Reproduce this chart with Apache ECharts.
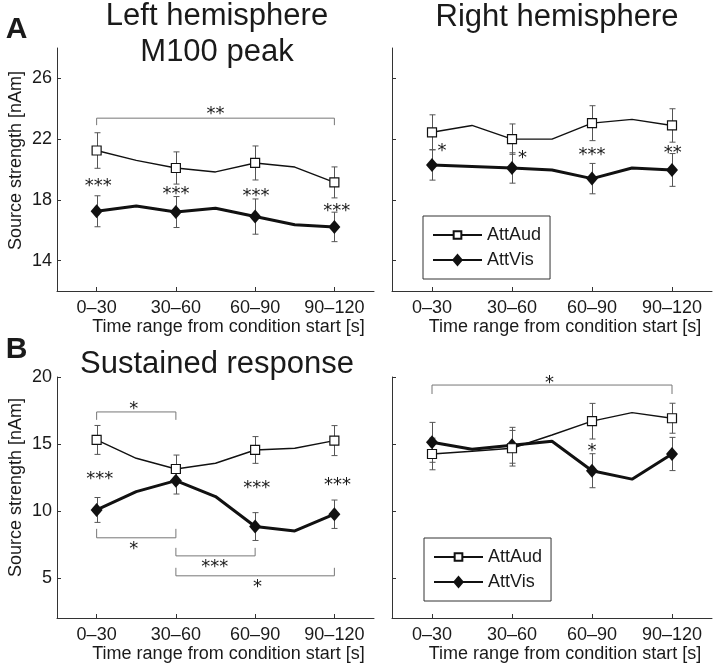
<!DOCTYPE html>
<html><head><meta charset="utf-8">
<script src="https://cdn.jsdelivr.net/npm/echarts@6/dist/echarts.min.js"></script>
<style>html,body{margin:0;padding:0;background:#fff}#c{width:714px;height:666px}</style>
</head><body><div id="c"></div>
<script>
// ---------- data ----------
const tickLabels = ['0–30', '30–60', '60–90', '90–120'];
const xPos = [1, 1.5, 2, 2.5, 3, 3.5, 4];
const markerPos = [1, 2, 3, 4];
const yTicksA = [14, 18, 22, 26];
const yTicksB = [5, 10, 15, 20];
const seriesNames = ['AttAud', 'AttVis'];

// A: M100 peak
const aLeftAud = [21.25, 20.6, 20.1, 19.84, 20.43, 20.16, 19.15];
const aLeftAudErr = [1.17, 1.06, 1.12, 1.02];
const aLeftVis = [17.25, 17.6, 17.2, 17.45, 16.9, 16.36, 16.22];
const aLeftVisErr = [1.02, 1.02, 1.16, 0.97];
const aRightAud = [22.45, 22.9, 22.0, 22.0, 23.05, 23.3, 22.9];
const aRightAudErr = [1.15, 1.0, 1.15, 1.1];
const aRightVis = [20.3, 20.2, 20.1, 19.97, 19.4, 20.1, 19.97];
const aRightVisErr = [1.0, 1.0, 1.0, 1.08];

// B: sustained response
const bLeftAud = [15.3, 13.93, 13.13, 13.56, 14.55, 14.68, 15.25];
const bLeftAudErr = [1.08, 1.04, 1.0, 1.12];
const bLeftVis = [10.07, 11.44, 12.26, 11.07, 8.83, 8.5, 9.75];
const bLeftVisErr = [0.93, 1.0, 1.04, 1.06];
const bRightAud = [14.25, 14.45, 14.68, 15.67, 16.7, 17.34, 16.92];
const bRightAudErr = [1.18, 1.33, 1.33, 1.12];
const bRightVis = [15.12, 14.6, 14.9, 15.2, 13.0, 12.37, 14.25];
const bRightVisErr = [1.49, 1.34, 1.27, 1.24];

// significance annotations [x, y, label]
const aLeftStars = [[1.02, 19.15, '***'], [2.0, 18.62, '***'], [3.01, 18.52, '***'], [4.03, 17.5, '***'], [2.5, 23.9, '**']];
const aRightStars = [[1.125, 21.48, '*'], [2.13, 21.0, '*'], [3.0, 21.2, '***'], [4.01, 21.35, '**']];
const bLeftStars = [[1.04, 12.69, '***'], [3.02, 12.0, '***'], [4.04, 12.24, '***'], [1.47, 17.9, '*'], [1.47, 7.43, '*'], [2.49, 6.08, '***'], [3.03, 4.59, '*']];
const bRightStars = [[2.47, 19.85, '*'], [3.0, 14.78, '*']];

// brackets [x1, x2, yBar, yEnd]
const aLeftBrackets = [[1, 4, 23.38, 22.92]];
const aRightBrackets = [];
const bLeftBrackets = [[1, 2, 17.39, 16.8], [1, 2, 7.99, 8.66], [2, 3, 6.64, 7.24], [2, 4, 5.15, 5.75]];
const bRightBrackets = [[1, 4, 19.4, 18.73]];

// ---------- styling / building ----------
const FONT = 'Liberation Sans, Arial, Helvetica, sans-serif';
const TXT = '#1a1a1a';
const AX = '#333';
const squarePath = 'path://M0,0M20,20M4,4L16,4L16,16L4,16Z';
const diamondPath = 'path://M0,0M28,28M14,0L26,14L14,28L2,14Z';

const panels = [
  {aud: aLeftAud, audErr: aLeftAudErr, vis: aLeftVis, visErr: aLeftVisErr, stars: aLeftStars, br: aLeftBrackets,
   grid: {left: 57, top: 48, width: 317, height: 243}, y: [12, 28], ticks: yTicksA, labels: true, nameShift: 18},
  {aud: aRightAud, audErr: aRightAudErr, vis: aRightVis, visErr: aRightVisErr, stars: aRightStars, br: aRightBrackets,
   grid: {left: 392, top: 48, width: 320, height: 243}, y: [12, 28], ticks: yTicksA, labels: false},
  {aud: bLeftAud, audErr: bLeftAudErr, vis: bLeftVis, visErr: bLeftVisErr, stars: bLeftStars, br: bLeftBrackets,
   grid: {left: 57, top: 377, width: 317, height: 241}, y: [2, 20], ticks: yTicksB, labels: true, nameShift: 20},
  {aud: bRightAud, audErr: bRightAudErr, vis: bRightVis, visErr: bRightVisErr, stars: bRightStars, br: bRightBrackets,
   grid: {left: 392, top: 377, width: 320, height: 241}, y: [2, 20], ticks: yTicksB, labels: false}
];

function lineData(vals) {
  return xPos.map((x, i) => Number.isInteger(x) ? {value: [x, vals[i]]} : {value: [x, vals[i]], symbol: 'none'});
}
function errData(vals, errs) {
  return markerPos.map((x, i) => [x, vals[xPos.indexOf(x)], errs[i]]);
}
function errRender(params, api) {
  const x = api.value(0), y = api.value(1), e = api.value(2);
  const t = api.coord([x, y + e]), b = api.coord([x, y - e]);
  const hw = 3, st = {stroke: '#555', lineWidth: 1};
  const cx = Math.round(t[0]) + 0.5;
  return {type: 'group', children: [
    {type: 'line', shape: {x1: cx, y1: t[1], x2: cx, y2: b[1]}, style: st},
    {type: 'line', shape: {x1: cx - hw, y1: t[1], x2: cx + hw, y2: t[1]}, style: st},
    {type: 'line', shape: {x1: cx - hw, y1: b[1], x2: cx + hw, y2: b[1]}, style: st}
  ]};
}
function bracketRender(params, api) {
  const p1 = api.coord([api.value(0), api.value(3)]);
  const p2 = api.coord([api.value(0), api.value(2)]);
  const p3 = api.coord([api.value(1), api.value(2)]);
  const p4 = api.coord([api.value(1), api.value(3)]);
  return {type: 'polyline', shape: {points: [p1, p2, p3, p4]}, style: {stroke: '#777', lineWidth: 1, fill: null}};
}
function starRenderFor(list) {
  return function (params, api) {
    const p = api.coord([api.value(0), api.value(1)]);
    const fs = 18;
    return {type: 'text', x: p[0], y: p[1] + 0.22 * fs,
      style: {text: list[params.dataIndex][2], fontSize: fs, fontFamily: 'DejaVu Sans', fill: TXT, align: 'center', verticalAlign: 'middle'}};
  };
}

const grids = [], xAxes = [], yAxes = [], series = [];
panels.forEach((p, gi) => {
  grids.push(Object.assign({containLabel: false}, p.grid));
  xAxes.push({
    type: 'value', gridIndex: gi, min: 0.5, max: 4.5,
    name: 'Time range from condition start [s]', nameLocation: 'middle', nameGap: 22,
    nameTextStyle: {fontSize: 18, fontFamily: FONT, color: TXT, padding: [0, 0, 0, 26]},
    axisLine: {show: true, onZero: false, lineStyle: {color: AX, width: 1}},
    axisTick: {show: true, inside: true, length: 4, customValues: markerPos, lineStyle: {color: AX}},
    axisLabel: {show: true, customValues: markerPos, margin: 8, fontSize: 18, fontFamily: FONT, color: TXT,
      formatter: v => tickLabels[Math.round(v) - 1] || ''},
    splitLine: {show: false}
  });
  yAxes.push({
    type: 'value', gridIndex: gi, min: p.y[0], max: p.y[1],
    name: p.labels ? 'Source strength [nAm]' : '', nameLocation: 'middle', nameGap: 32,
    nameTextStyle: {fontSize: 18, fontFamily: FONT, color: TXT, padding: [0, 0, 0, p.nameShift || 0]},
    axisLine: {show: true, onZero: false, lineStyle: {color: AX, width: 1}},
    axisTick: {show: true, inside: true, length: 4, customValues: p.ticks, lineStyle: {color: AX}},
    axisLabel: {show: p.labels, customValues: p.ticks, margin: 5, fontSize: 18, fontFamily: FONT, color: TXT},
    splitLine: {show: false}
  });
  series.push({type: 'custom', xAxisIndex: gi, yAxisIndex: gi, renderItem: bracketRender, data: p.br, z: 1, silent: true});
  series.push({type: 'custom', xAxisIndex: gi, yAxisIndex: gi, renderItem: errRender, data: errData(p.vis, p.visErr), z: 2, silent: true});
  series.push({type: 'custom', xAxisIndex: gi, yAxisIndex: gi, renderItem: errRender, data: errData(p.aud, p.audErr), z: 2, silent: true});
  series.push({type: 'line', name: seriesNames[1], xAxisIndex: gi, yAxisIndex: gi, data: lineData(p.vis),
    symbol: diamondPath, symbolSize: 14, showSymbol: true,
    lineStyle: {color: '#111', width: 3}, itemStyle: {color: '#111', borderColor: '#111', borderWidth: 0}, z: 3});
  series.push({type: 'line', name: seriesNames[0], xAxisIndex: gi, yAxisIndex: gi, data: lineData(p.aud),
    symbol: squarePath, symbolSize: 15, showSymbol: true,
    lineStyle: {color: '#111', width: 1.4}, itemStyle: {color: '#fff', borderColor: '#111', borderWidth: 1.2}, z: 4});
  series.push({type: 'custom', xAxisIndex: gi, yAxisIndex: gi, renderItem: starRenderFor(p.stars), data: p.stars.map(s => [s[0], s[1]]), z: 5, silent: true});
});

const legendBase = {
  orient: 'vertical', data: seriesNames, itemWidth: 49, itemHeight: 16, itemGap: 7,
  padding: [10, 9, 10, 9], borderColor: '#333', borderWidth: 1, backgroundColor: '#fff', selectedMode: false,
  textStyle: {fontSize: 18, fontFamily: FONT, color: TXT, lineHeight: 16}
};

const option = {
  animation: false,
  backgroundColor: '#fff',
  grid: grids, xAxis: xAxes, yAxis: yAxes, series: series,
  legend: [Object.assign({left: 423, top: 216}, legendBase), Object.assign({left: 424, top: 538}, legendBase)],
  graphic: [
    {type: 'text', x: 16.5, y: 30, style: {text: 'A', font: 'bold 30px ' + FONT, fill: TXT, align: 'center', verticalAlign: 'middle'}},
    {type: 'text', x: 16.5, y: 350, style: {text: 'B', font: 'bold 30px ' + FONT, fill: TXT, align: 'center', verticalAlign: 'middle'}},
    {type: 'text', x: 217, y: 34.6, style: {text: 'Left hemisphere\nM100 peak', fontSize: 31, fontFamily: FONT, lineHeight: 36, fill: TXT, align: 'center', verticalAlign: 'middle'}},
    {type: 'text', x: 557, y: 17, style: {text: 'Right hemisphere', fontSize: 31, fontFamily: FONT, fill: TXT, align: 'center', verticalAlign: 'middle'}},
    {type: 'text', x: 217, y: 364, style: {text: 'Sustained response', fontSize: 31, fontFamily: FONT, fill: TXT, align: 'center', verticalAlign: 'middle'}}
  ]
};

const chart = echarts.init(document.getElementById('c'), null, {renderer: 'canvas'});
chart.setOption(option);
</script>
</body></html>
